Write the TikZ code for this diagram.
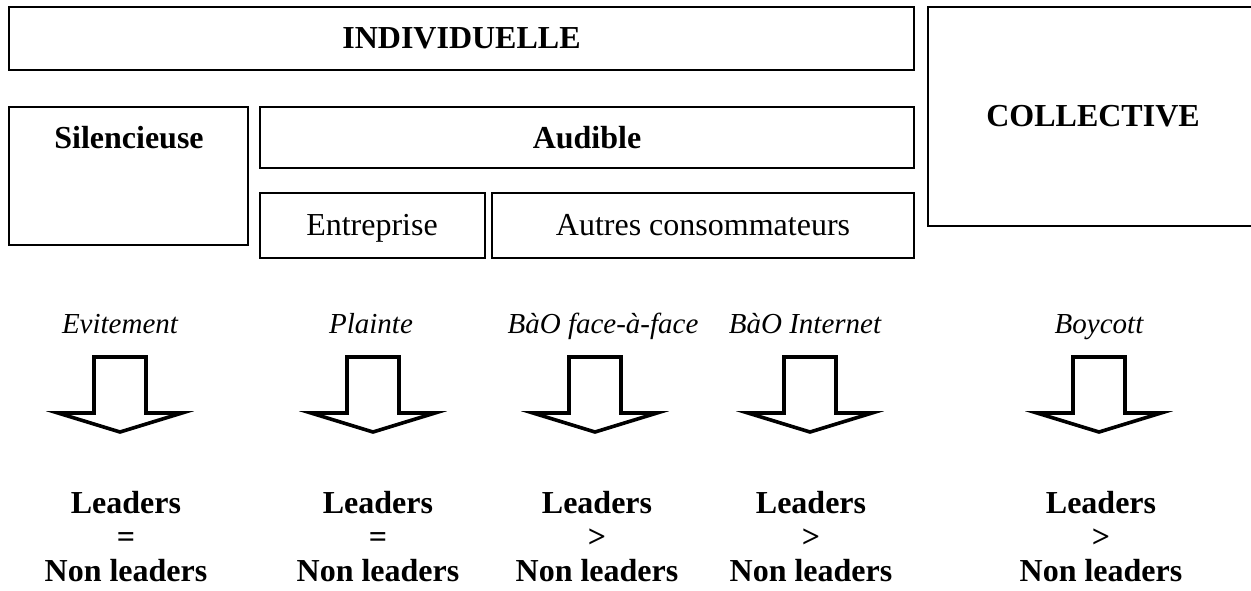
\documentclass[tikz,border=0pt]{standalone}
\usepackage{fontspec}
\setmainfont{Liberation Serif}
\usetikzlibrary{positioning}

\tikzset{
  cadre/.style={draw=black, line width=1pt},
  gras/.style={font=\fontsize{16}{17}\selectfont\bfseries},
  normal/.style={font=\fontsize{16}{17}\selectfont, anchor=base},
  canal/.style={font=\fontsize{14.5}{17}\selectfont\itshape, anchor=base},
  effet/.style={font=\fontsize{16}{17}\selectfont\bfseries, align=center},
  fleche/.style={draw=black, fill=white, line width=1.8pt, line join=miter}
}

\begin{document}
\begin{tikzpicture}[x=0.5pt, y=-0.5pt]
      \useasboundingbox (0,0) rectangle (1251,590);

      % les cadres du haut
      \draw[cadre] (9,7) rectangle (914,70) node[midway, gras] (indiv) {INDIVIDUELLE};
      \draw[cadre] (928,7) rectangle (1258,226) node[midway, gras] (collec) {COLLECTIVE};
      \draw[cadre] (9,107) rectangle (248,245);
      \node[gras, anchor=base] (silence) at (129,148) {Silencieuse};
      \draw[cadre] (260,107) rectangle (914,168) node[midway, gras] (audible) {Audible};
      \draw[cadre] (260,193) rectangle (485,258);
      \node[normal] (entr) at (372,235) {Entreprise};
      \draw[cadre] (492,193) rectangle (914,258);
      \node[normal] (autres) at (703,235) {Autres consommateurs};

      % les formes de la plainte
      \node[canal] (evit)  at (120,333)  {Evitement};
      \node[canal] (plain) at (371,333)  {Plainte};
      \node[canal] (bface) at (603,333)  {BàO face-à-face};
      \node[canal] (binet) at (805,333)  {BàO Internet};
      \node[canal] (boyc)  at (1099,333) {Boycott};

      % les grosses fleches
      \foreach \cx in {120,373,595,810,1099} {
        \draw[fleche] ({\cx-26},357) -- ({\cx+26},357) -- ({\cx+26},413)
              -- ({\cx+62},413) -- (\cx,432) -- ({\cx-62},413)
              -- ({\cx-26},413) -- cycle;
      }

      % les resultats
      \node[effet] (res1) at (126,537)  {Leaders\\=\\Non leaders};
      \node[effet] (res2) at (378,537)  {Leaders\\=\\Non leaders};
      \node[effet] (res3) at (597,537)  {Leaders\\>\\Non leaders};
      \node[effet] (res4) at (811,537)  {Leaders\\>\\Non leaders};
      \node[effet] (res5) at (1101,537) {Leaders\\>\\Non leaders};
\end{tikzpicture}
\end{document}
